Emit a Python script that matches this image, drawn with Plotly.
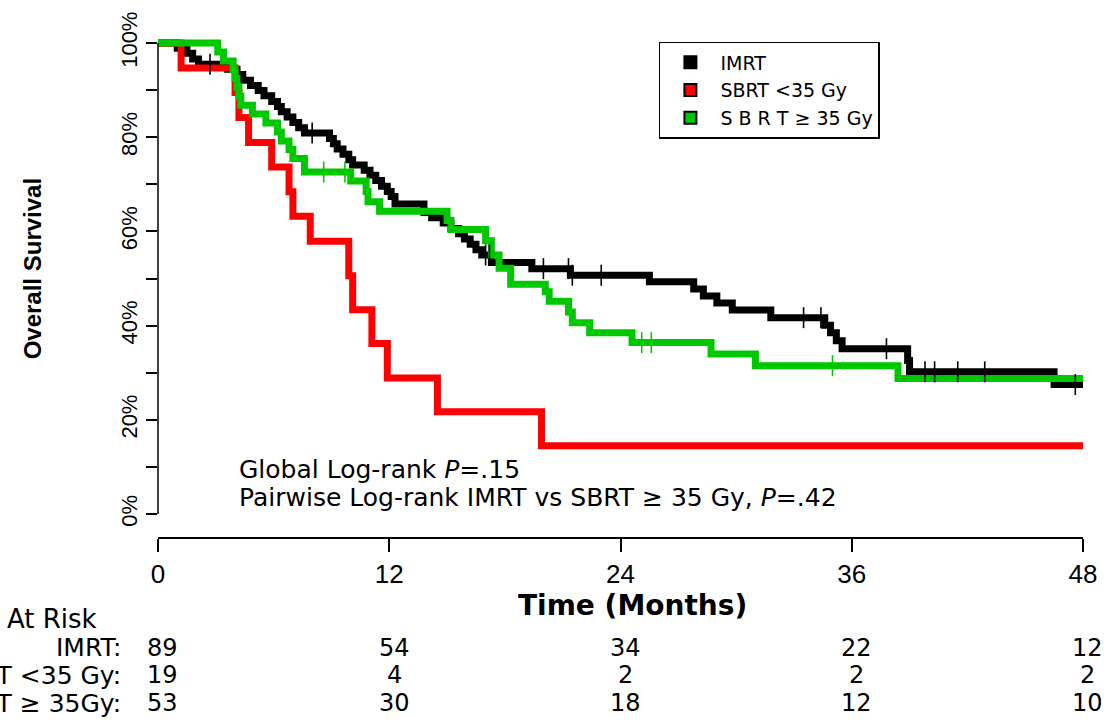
import numpy as np
import plotly.graph_objects as go

# ---------------- data ----------------
imrt_t = [0, 1.0, 1.5, 1.8, 2.1, 3.6, 4.1, 4.4, 4.8, 5.2, 5.5, 5.9, 6.2, 6.4, 6.7,
          7.0, 7.3, 7.6, 8.9, 9.1, 9.3, 9.6, 9.9, 10.1, 10.7, 11.0, 11.3, 11.6, 11.9,
          12.1, 12.3, 13.8, 14.2, 14.8, 15.2, 15.6, 15.9, 16.2, 16.5, 16.8, 17.3,
          19.4, 21.4, 25.5, 27.8, 28.3, 29.0, 29.8, 31.8, 34.6, 34.9, 35.2, 35.5,
          38.9, 39.0, 46.5, 48]
imrt_s = [100, 98.9, 97.8, 96.6, 95.5, 94.4, 93.3, 92.1, 91.0, 89.9, 88.8, 87.6, 86.5,
          85.4, 84.3, 83.1, 82.0, 80.9, 79.7, 78.6, 77.5, 76.4, 75.2, 74.1, 73.0, 71.9,
          70.8, 69.6, 68.5, 67.4, 65.8, 64.0, 62.9, 61.8, 60.6, 59.5, 58.4, 57.3, 56.1,
          55.0, 53.4, 52.1, 50.7, 49.3, 47.8, 46.3, 44.8, 43.3, 41.7, 40.1, 38.5, 36.8,
          35.1, 32.6, 30.2, 27.5, 27.5]
imrt_cens = [2.7, 8.0, 17.0, 17.2, 20.0, 21.3, 21.5, 23.0, 33.5, 34.4, 37.8, 39.8,
             40.3, 41.5, 42.9, 47.6]

sbrt_lo_t = [0, 1.2, 4.0, 4.2, 4.7, 5.9, 6.8, 7.0, 7.9, 9.9, 10.1, 11.1, 11.9, 14.5, 19.9, 48]
sbrt_lo_s = [100, 94.7, 89.5, 84.2, 78.9, 73.7, 68.4, 63.2, 57.9, 50.6, 43.4, 36.2, 28.9,
             21.7, 14.5, 14.5]
sbrt_lo_cens = [10.0]

sbrt_hi_t = [0, 3.1, 3.4, 3.9, 4.0, 4.1, 4.2, 4.3, 4.9, 5.6, 6.2, 6.4, 6.8, 7.0, 7.6,
             10.0, 10.8, 10.9, 11.5, 15.0, 15.2, 17.0, 17.3, 17.7, 18.3, 20.1, 20.3,
             21.3, 21.5, 22.4, 24.6, 28.7, 31.0, 38.4, 48]
sbrt_hi_s = [100, 98.1, 96.2, 94.3, 92.5, 90.6, 88.7, 86.8, 84.9, 83.0, 81.1, 79.2, 77.4,
             75.5, 72.6, 70.7, 68.5, 66.3, 64.3, 62.3, 60.4, 58.0, 55.0, 52.2, 48.8, 47.2,
             45.2, 42.9, 40.6, 38.5, 36.4, 34.0, 31.5, 28.8, 28.8]
sbrt_hi_cens = [8.6, 9.7, 25.1, 25.6, 35.0]

risk_times = [0, 12, 24, 36, 48]
risk_imrt = [89, 54, 34, 22, 12]
risk_lo = [19, 4, 2, 2, 2]
risk_hi = [53, 30, 18, 12, 10]

x_ticks = [0, 12, 24, 36, 48]
y_ticks = [0, 10, 20, 30, 40, 50, 60, 70, 80, 90, 100]
y_labels = ["0%", "", "20%", "", "40%", "", "60%", "", "80%", "", "100%"]

BLACK, RED, GREEN = "#000000", "#ff0000", "#00c800"


def step_at(t, s, c):
    t = np.asarray(t)
    idx = np.searchsorted(t, c, side="right") - 1
    return [s[i] for i in np.atleast_1d(idx)]


fig = go.Figure()
series = [
    (imrt_t, imrt_s, imrt_cens, BLACK),
    (sbrt_lo_t, sbrt_lo_s, sbrt_lo_cens, RED),
    (sbrt_hi_t, sbrt_hi_s, sbrt_hi_cens, GREEN),
]
for t, s, cens, col in series:
    fig.add_trace(go.Scatter(x=t, y=s, mode="lines", line=dict(color=col, width=7, shape="hv"),
                             showlegend=False, hoverinfo="skip"))
for t, s, cens, col in series:
    fig.add_trace(go.Scatter(x=cens, y=step_at(t, s, cens), mode="markers",
                             marker=dict(symbol="line-ns", size=15,
                                         line=dict(color=col, width=1.6)),
                             showlegend=False, hoverinfo="skip", cliponaxis=False))

for name, col in [("IMRT", BLACK), ("SBRT <35 Gy", RED), ("S B R T \u2265 35 Gy", GREEN)]:
    fig.add_trace(go.Scatter(x=[None], y=[None], mode="markers", name=name,
                             marker=dict(symbol="square", size=15, color=col,
                                         line=dict(color="black", width=1.5))))

# ---------------- layout ----------------
L, R, T, B = 158, 1085, 36, 537
W, H = 1109, 721
PW, PH = R - L, B - T
XS = PW / 48.0  # pixels per month


def px(xp):
    return (xp - L) / PW


def py(yp):
    return 1 - (yp - T) / PH


ytop = 100 + (41 - T) / 4.73
ybot = -(B - 514) / 4.73

NARROW = "Liberation Sans, Arial, sans-serif"
SANS = "DejaVu Sans, Verdana, sans-serif"

fig.update_layout(
    width=W, height=H,
    margin=dict(l=L, r=W - R, t=T, b=H - B),
    paper_bgcolor="white", plot_bgcolor="white",
    xaxis=dict(range=[0, 48], tickvals=x_ticks, ticks="outside", ticklen=13,
               tickwidth=1.5, tickcolor="black", showline=True, linewidth=1.5,
               linecolor="black", showgrid=False, zeroline=False,
               tickfont=dict(family=NARROW, size=26, color="black")),
    yaxis=dict(range=[ybot, ytop], tickvals=y_ticks, ticktext=y_labels, ticks="outside",
               ticklen=11, tickwidth=1.5, tickcolor="black", showline=False,
               showgrid=False, zeroline=False, tickangle=-90,
               tickfont=dict(family=NARROW, size=22, color="black")),
    legend=dict(x=px(660), y=py(40), xanchor="left", yanchor="top",
                bgcolor="white", bordercolor="black", borderwidth=1.5,
                font=dict(family=SANS, size=19, color="black"),
                itemsizing="constant", itemwidth=50),
    shapes=[dict(type="line", xref="paper", yref="y", x0=0, x1=0, y0=0, y1=100,
                 line=dict(color="black", width=1.5))],
)

ann = []


def add(text, x, y, size, family=SANS, xanchor="center", xref="paper", yref="paper", **kw):
    ann.append(dict(text=text, x=x, y=y, xref=xref, yref=yref, xanchor=xanchor,
                    yanchor="middle", showarrow=False,
                    font=dict(family=family, size=size, color="black"), **kw))


add("<b>Overall Survival</b>", px(32), py(268), 24, family=NARROW, textangle=-90)
add("<b>Time (Months)</b>", px(634), py(606), 28)
add("Global Log-rank <i>P</i>=.15", (237 - L) / XS, (514 - 469) / 4.73, 25,
    xanchor="left", xref="x", yref="y")
add("Pairwise Log-rank IMRT vs SBRT \u2265 35 Gy, <i>P</i>=.42", (237 - L) / XS,
    (514 - 497) / 4.73, 25, xanchor="left", xref="x", yref="y")
add("At Risk", px(5), py(619), 26, xanchor="left")
rows = [("IMRT:", risk_imrt, 648), ("SBRT <35 Gy:", risk_lo, 676), ("SBRT \u2265 35Gy:", risk_hi, 704)]
for label, vals, yp in rows:
    add(label, px(123), py(yp), 25, xanchor="right")
    for tt, v in zip(risk_times, vals):
        add(str(v), px(L + tt * XS + 5), py(yp), 24)
fig.update_layout(annotations=ann)

fig.write_html("out.html")
